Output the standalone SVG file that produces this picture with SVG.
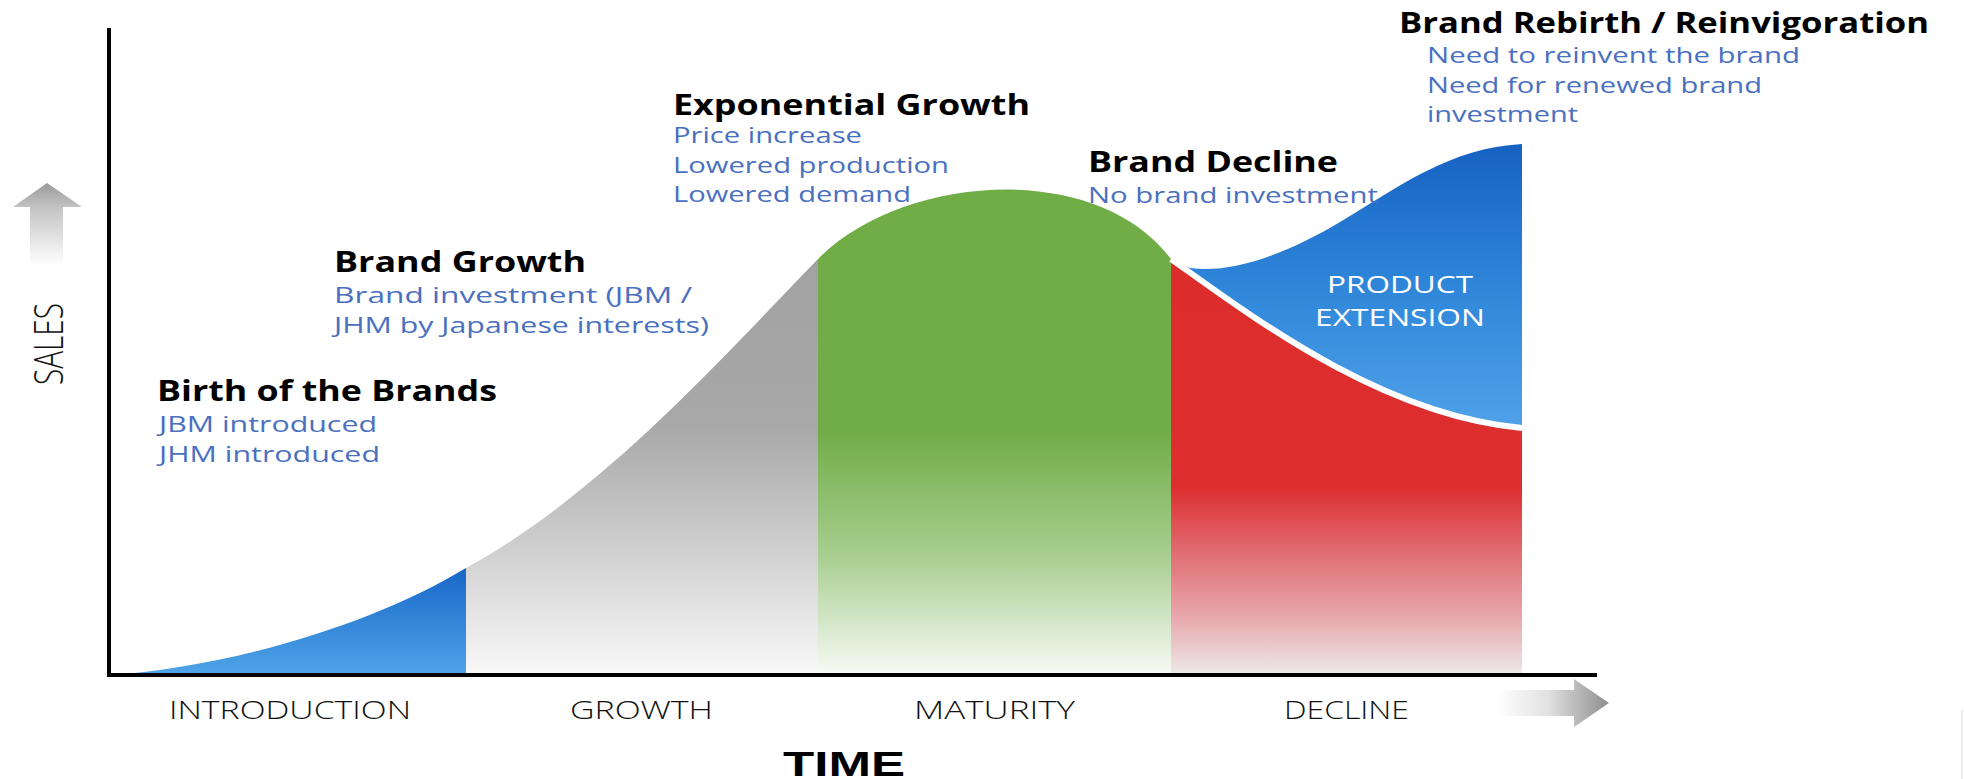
<svg xmlns="http://www.w3.org/2000/svg" width="1964" height="779" viewBox="0 0 1964 779">
  <style>
    .head { font-family: "Open Sans", "Liberation Sans", sans-serif; font-weight: 700; font-size: 29px; fill: #000; }
    .note { font-family: "Open Sans", "Liberation Sans", sans-serif; font-size: 22px; fill: #4a70c0; }
    .phase { font-family: "Open Sans", "Liberation Sans", sans-serif; font-weight: 300; font-size: 25px; fill: #111; }
    .sales { font-family: "Open Sans", "Liberation Sans", sans-serif; font-weight: 300; font-size: 40px; fill: #111; text-anchor: middle; }
    .time { font-family: "Liberation Sans", sans-serif; font-weight: 700; font-size: 35px; fill: #000; }
    .inner { font-family: "Open Sans", "Liberation Sans", sans-serif; font-size: 24px; fill: #fff; text-anchor: middle; }
    .axis { stroke: #000; stroke-width: 4; fill: none; }
  </style>
  <defs>
    <linearGradient id="gIntro" gradientUnits="userSpaceOnUse" x1="0" y1="567" x2="0" y2="674">
      <stop offset="0" stop-color="#1766c7"/>
      <stop offset="1" stop-color="#4ea4e8"/>
    </linearGradient>
    <linearGradient id="gGrowth" gradientUnits="userSpaceOnUse" x1="0" y1="259" x2="0" y2="674">
      <stop offset="0" stop-color="#a2a2a2"/>
      <stop offset="0.4" stop-color="#a8a8a8"/>
      <stop offset="0.72" stop-color="#d2d2d2"/>
      <stop offset="1" stop-color="#f8f8f8"/>
    </linearGradient>
    <linearGradient id="gMaturity" gradientUnits="userSpaceOnUse" x1="0" y1="190" x2="0" y2="674">
      <stop offset="0" stop-color="#70ad47"/>
      <stop offset="0.5" stop-color="#70ad47"/>
      <stop offset="0.76" stop-color="#a9cf91"/>
      <stop offset="1" stop-color="#f7faf5"/>
    </linearGradient>
    <linearGradient id="gDecline" gradientUnits="userSpaceOnUse" x1="0" y1="259" x2="0" y2="674">
      <stop offset="0" stop-color="#dd2c2c"/>
      <stop offset="0.55" stop-color="#dd2e2f"/>
      <stop offset="0.7" stop-color="#e06a70"/>
      <stop offset="0.86" stop-color="#e7a6aa"/>
      <stop offset="1" stop-color="#eee9e9"/>
    </linearGradient>
    <linearGradient id="gExt" gradientUnits="userSpaceOnUse" x1="0" y1="144" x2="0" y2="428">
      <stop offset="0" stop-color="#1662c2"/>
      <stop offset="0.5" stop-color="#2f86d9"/>
      <stop offset="1" stop-color="#4fa2e8"/>
    </linearGradient>
    <linearGradient id="gUp" gradientUnits="userSpaceOnUse" x1="0" y1="183" x2="0" y2="266">
      <stop offset="0" stop-color="#9a9a9a"/>
      <stop offset="0.3" stop-color="#c4c4c4"/>
      <stop offset="1" stop-color="#ffffff"/>
    </linearGradient>
    <linearGradient id="gRight" gradientUnits="userSpaceOnUse" x1="1497" y1="0" x2="1609" y2="0">
      <stop offset="0" stop-color="#ffffff"/>
      <stop offset="0.45" stop-color="#e2e2e2"/>
      <stop offset="1" stop-color="#8e8e8e"/>
    </linearGradient>
  </defs>

  <rect width="1964" height="779" fill="#fff"/>

  <!-- lifecycle stages -->
  <g id="stage-introduction">
    <path d="M125,674 C250,662 380,620 466,568 L466,674 Z" fill="url(#gIntro)"/>
  </g>
  <g id="stage-growth">
    <path d="M466,568 C600,495 720,360 818,259 L818,674 L466,674 Z" fill="url(#gGrowth)"/>
  </g>
  <g id="stage-maturity">
    <path d="M818,259 C900,175 1095,158 1171,259 L1171,674 L818,674 Z" fill="url(#gMaturity)"/>
  </g>
  <g id="stage-decline">
    <path d="M1171,259 C1250,315 1380,415 1522,428 L1522,674 L1171,674 Z" fill="url(#gDecline)"/>
  </g>
  <g id="product-extension">
    <path d="M1171,259 C1250,315 1380,415 1522,428 L1522,144 C1450,148 1400,186 1340,222 C1285,255 1230,274 1190,268 Q1180,264 1171,259 Z" fill="url(#gExt)"/>
    <path d="M1171,259 C1250,315 1380,415 1522,428" fill="none" stroke="#fff" stroke-width="6"/>
    <text class="inner" x="1400" y="293" textLength="146" lengthAdjust="spacingAndGlyphs">PRODUCT</text>
    <text class="inner" x="1400" y="326" textLength="170" lengthAdjust="spacingAndGlyphs">EXTENSION</text>
  </g>

  <!-- axes and direction arrows -->
  <g id="axes">
    <line class="axis" x1="109" y1="28" x2="109" y2="675"/>
    <line class="axis" x1="107" y1="675" x2="1597" y2="675"/>
    <polygon points="47,183 82,207 63,207 63,266 30,266 30,207 13,207" fill="url(#gUp)"/>
    <polygon points="1497,690 1574,690 1574,679 1609,703 1574,727 1574,716 1497,716" fill="url(#gRight)"/>
    <line x1="1962" y1="710" x2="1962" y2="779" stroke="#ececec" stroke-width="2"/>
  </g>

  <g id="label-sales">
    <text class="sales" transform="translate(63,344) rotate(-90)" textLength="82" lengthAdjust="spacingAndGlyphs">SALES</text>
  </g>

  <!-- phase labels on the time axis -->
  <g id="phase-labels">
    <text class="phase" x="169" y="719" textLength="242" lengthAdjust="spacingAndGlyphs">INTRODUCTION</text>
    <text class="phase" x="570" y="719" textLength="143" lengthAdjust="spacingAndGlyphs">GROWTH</text>
    <text class="phase" x="914" y="719" textLength="161" lengthAdjust="spacingAndGlyphs">MATURITY</text>
    <text class="phase" x="1284" y="719" textLength="125" lengthAdjust="spacingAndGlyphs">DECLINE</text>
    <text class="time" x="783" y="776" textLength="122" lengthAdjust="spacingAndGlyphs">TIME</text>
  </g>

  <!-- annotations -->
  <g id="note-birth">
    <text class="head" x="157" y="401" textLength="340" lengthAdjust="spacingAndGlyphs">Birth of the Brands</text>
    <text class="note" x="159" y="432" textLength="218" lengthAdjust="spacingAndGlyphs">JBM introduced</text>
    <text class="note" x="159" y="462" textLength="221" lengthAdjust="spacingAndGlyphs">JHM introduced</text>
  </g>
  <g id="note-growth">
    <text class="head" x="334" y="272" textLength="252" lengthAdjust="spacingAndGlyphs">Brand Growth</text>
    <text class="note" x="334" y="303" textLength="358" lengthAdjust="spacingAndGlyphs">Brand investment (JBM /</text>
    <text class="note" x="334" y="333" textLength="375" lengthAdjust="spacingAndGlyphs">JHM by Japanese interests)</text>
  </g>
  <g id="note-exponential">
    <text class="head" x="673" y="115" textLength="357" lengthAdjust="spacingAndGlyphs">Exponential Growth</text>
    <text class="note" x="673" y="143" textLength="189" lengthAdjust="spacingAndGlyphs">Price increase</text>
    <text class="note" x="673" y="173" textLength="276" lengthAdjust="spacingAndGlyphs">Lowered production</text>
    <text class="note" x="673" y="202" textLength="238" lengthAdjust="spacingAndGlyphs">Lowered demand</text>
  </g>
  <g id="note-decline">
    <text class="head" x="1088" y="172" textLength="250" lengthAdjust="spacingAndGlyphs">Brand Decline</text>
    <text class="note" x="1088" y="203" textLength="290" lengthAdjust="spacingAndGlyphs">No brand investment</text>
  </g>
  <g id="note-rebirth">
    <text class="head" x="1399" y="33" textLength="530" lengthAdjust="spacingAndGlyphs">Brand Rebirth / Reinvigoration</text>
    <text class="note" x="1427" y="63" textLength="373" lengthAdjust="spacingAndGlyphs">Need to reinvent the brand</text>
    <text class="note" x="1427" y="93" textLength="335" lengthAdjust="spacingAndGlyphs">Need for renewed brand</text>
    <text class="note" x="1427" y="122" textLength="151" lengthAdjust="spacingAndGlyphs">investment</text>
  </g>
</svg>
